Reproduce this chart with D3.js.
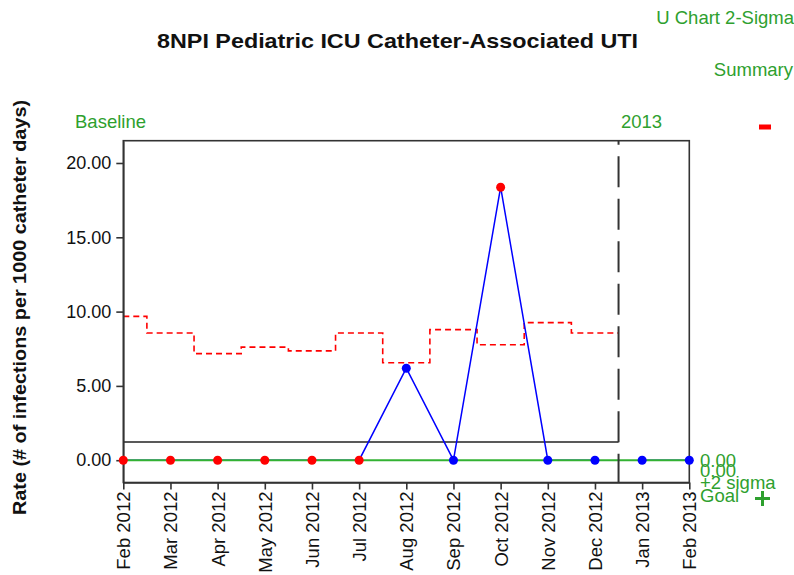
<!DOCTYPE html>
<html>
<head>
<meta charset="utf-8">
<script src="https://cdn.jsdelivr.net/npm/d3@7"></script>
<style>
  html, body { margin: 0; padding: 0; background: #fff; }
  svg { display: block; }
  text { font-family: "Liberation Sans", Arial, sans-serif; }
</style>
</head>
<body>
<svg id="chart" width="794" height="575"></svg>
<script>
// ---------- data ----------
const months = ["Feb 2012","Mar 2012","Apr 2012","May 2012","Jun 2012","Jul 2012","Aug 2012","Sep 2012","Oct 2012","Nov 2012","Dec 2012","Jan 2013","Feb 2013"];
const rates = [0, 0, 0, 0, 0, 0, 6.19, 0, 18.37, 0, 0, 0, 0];
const signal = [1, 1, 1, 1, 1, 1, 0, 0, 1, 0, 0, 0, 0];
const baselineMonths = months.slice(0, 11);
const ucl = [9.68, 8.56, 7.17, 7.61, 7.36, 8.56, 6.56, 8.79, 7.77, 9.26, 8.56];
const baselineCenter = 1.23;
const goal = 0;
const yTicks = [0, 5, 10, 15, 20];
const phaseLabels = ["Baseline", "2013"];
const rightLabels = ["0.00", "0.00", "+2 sigma", "Goal"];

// ---------- layout ----------
const svg = d3.select("#chart");
const L = 123.3, R = 689.3, T = 140.7, B = 482.5;
const green = "#2ea02e", greenLine = "#33b233";

const x = d3.scalePoint().domain(months).range([L, R]);
const y = d3.scaleLinear().domain([-1.5, 21.5]).range([B, T]);
const step = x.step();
const breakX = (x("Dec 2012") + x("Jan 2013")) / 2;

// title
svg.append("text")
  .attr("x", 397.5).attr("y", 48)
  .attr("text-anchor", "middle")
  .attr("font-size", 21).attr("font-weight", "bold")
  .attr("textLength", 481).attr("lengthAdjust", "spacingAndGlyphs")
  .attr("fill", "#111")
  .text("8NPI Pediatric ICU Catheter-Associated UTI");

// y label
svg.append("text")
  .attr("transform", "translate(26,307.5) rotate(-90)")
  .attr("text-anchor", "middle")
  .attr("font-size", 18).attr("font-weight", "bold")
  .attr("textLength", 415).attr("lengthAdjust", "spacingAndGlyphs")
  .attr("fill", "#111")
  .text("Rate (# of infections per 1000 catheter days)");

// corner labels
svg.append("text").attr("x", 794).attr("y", 24).attr("text-anchor", "end")
  .attr("font-size", 18.5).attr("fill", green).text("U Chart 2-Sigma");
svg.append("text").attr("x", 793).attr("y", 76).attr("text-anchor", "end")
  .attr("font-size", 18.5).attr("fill", green).text("Summary");
svg.append("rect").attr("x", 759).attr("y", 124.5).attr("width", 12).attr("height", 5).attr("fill", "#ff0000");

// phase labels
svg.append("text").attr("x", 75).attr("y", 128).attr("font-size", 18.5).attr("fill", green).text(phaseLabels[0]);
svg.append("text").attr("x", 621).attr("y", 128).attr("font-size", 18.5).attr("fill", green).text(phaseLabels[1]);

// UCL step line (baseline): horizontal segments centred on each month
const segs = [];
baselineMonths.forEach((m, i) => {
  const x0 = Math.max(L, x(m) - step / 2);
  const x1 = Math.min(breakX, x(m) + step / 2);
  segs.push([x0, y(ucl[i])], [x1, y(ucl[i])]);
});
svg.append("path")
  .attr("d", d3.line()(segs))
  .attr("fill", "none").attr("stroke", "#ff0000").attr("stroke-width", 1.6)
  .attr("stroke-dasharray", "6,4");

// baseline center line
svg.append("line")
  .attr("x1", L).attr("x2", breakX)
  .attr("y1", y(baselineCenter)).attr("y2", y(baselineCenter))
  .attr("stroke", "#222").attr("stroke-width", 1.5);

// data line (blue) per phase
const line = d3.line().x(d => x(d.m)).y(d => y(d.v));
const pts = months.map((m, i) => ({ m, v: rates[i], s: signal[i] }));
svg.append("path").attr("d", line(pts.slice(0, 11)))
  .attr("fill", "none").attr("stroke", "#0000ff").attr("stroke-width", 1.5);
svg.append("path").attr("d", line(pts.slice(11)))
  .attr("fill", "none").attr("stroke", "#0000ff").attr("stroke-width", 1.5);

// goal line
svg.append("line")
  .attr("x1", L).attr("x2", R)
  .attr("y1", y(goal)).attr("y2", y(goal))
  .attr("stroke", greenLine).attr("stroke-width", 2);

// phase break dashed line
svg.append("line")
  .attr("x1", breakX).attr("x2", breakX)
  .attr("y1", T).attr("y2", B)
  .attr("stroke", "#333").attr("stroke-width", 2)
  .attr("stroke-dasharray", "31,11.5").attr("stroke-dashoffset", 27);

// frame
svg.append("rect")
  .attr("x", L).attr("y", T).attr("width", R - L).attr("height", B - T)
  .attr("fill", "none").attr("stroke", "#333").attr("stroke-width", 1.6);

// axes
const yAxis = svg.append("g").attr("transform", `translate(${L},0)`)
  .call(d3.axisLeft(y).tickValues(yTicks).tickFormat(d3.format(".2f")).tickSize(7).tickSizeOuter(0).tickPadding(5));
yAxis.select(".domain").attr("stroke", "#333").attr("stroke-width", 1.6);
yAxis.selectAll(".tick line").attr("stroke", "#333").attr("stroke-width", 1.6);
yAxis.selectAll("text").attr("font-size", 18).attr("fill", "#111")
  .attr("font-family", "'Liberation Sans', Arial, sans-serif");

const xAxis = svg.append("g").attr("transform", `translate(0,${B})`)
  .call(d3.axisBottom(x).tickSize(7).tickSizeOuter(0));
xAxis.select(".domain").attr("stroke", "#333").attr("stroke-width", 1.6);
xAxis.selectAll(".tick line").attr("stroke", "#333").attr("stroke-width", 1.6);
xAxis.selectAll("text")
  .attr("transform", "rotate(-90)")
  .attr("x", -9).attr("y", 0).attr("dy", "0.35em")
  .style("text-anchor", "end")
  .attr("font-size", 18.5).attr("fill", "#111")
  .attr("font-family", "'Liberation Sans', Arial, sans-serif");

// points
svg.append("g").selectAll("circle").data(pts).join("circle")
  .attr("cx", d => x(d.m)).attr("cy", d => y(d.v)).attr("r", 4.5)
  .attr("fill", d => d.s ? "#ff0000" : "#0000ff");

// right-side labels (stacked tightly as in the reference)
const rlY = [466.5, 477, 489, 501.5];
svg.append("g").selectAll("text").data(rightLabels).join("text")
  .attr("x", 700).attr("y", (d, i) => rlY[i]).attr("font-size", 18.5).attr("fill", green)
  .text(d => d);
svg.append("path").attr("d", "M755,498.5H770M762.5,491V506")
  .attr("stroke", green).attr("stroke-width", 3).attr("fill", "none");
</script>
</body>
</html>
